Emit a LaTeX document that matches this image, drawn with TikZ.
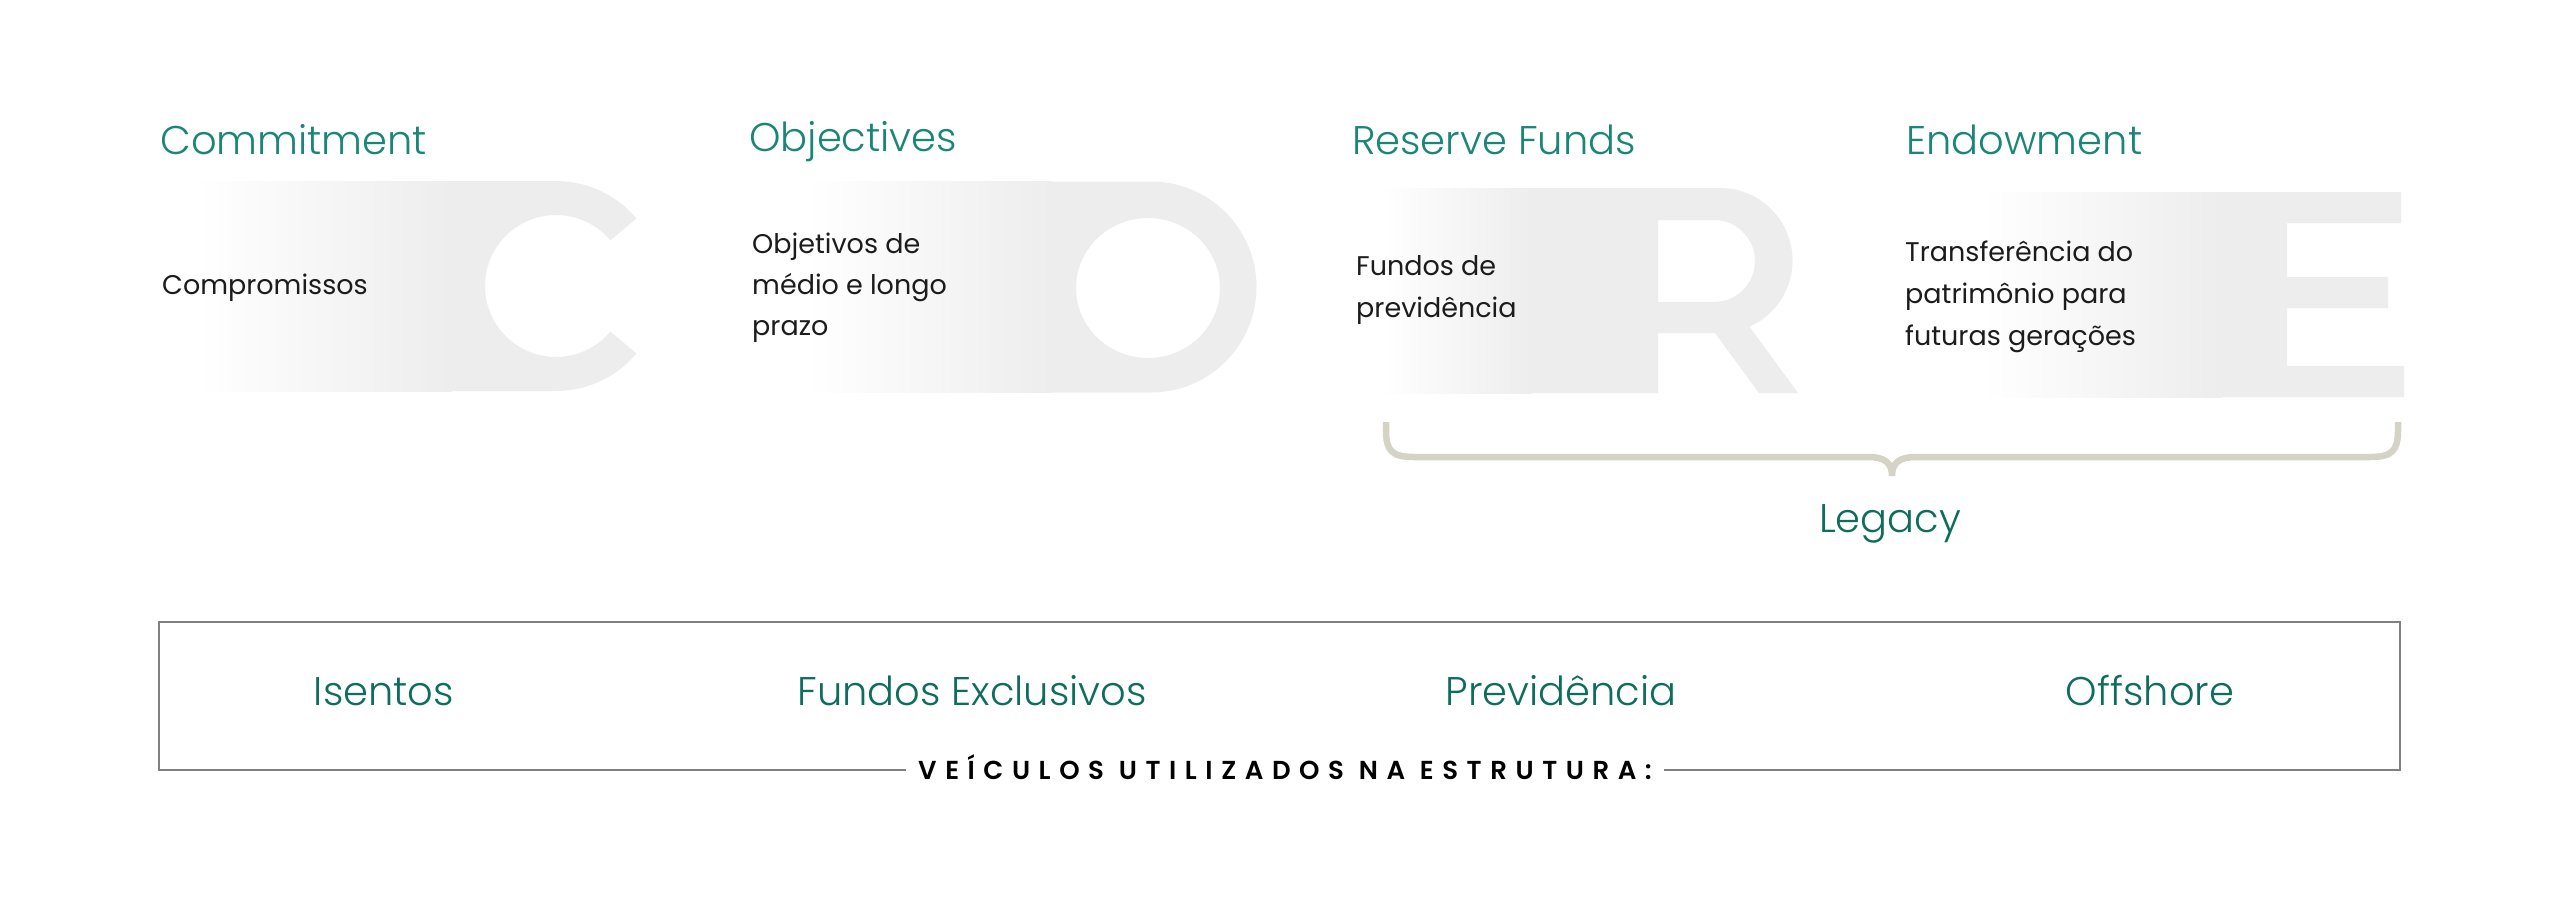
\documentclass[tikz,border=0pt]{standalone}
\usepackage{fontspec}
\setmainfont{Poppins}
\IfFontExistsTF{Poppins Light}{\newfontfamily\lightf{Poppins Light}}{\newfontfamily\lightf{Poppins}}
\IfFontExistsTF{Poppins SemiBold}{\newfontfamily\medf[LetterSpace=33]{Poppins SemiBold}}{%
  \IfFontExistsTF{Poppins Medium}{\newfontfamily\medf[LetterSpace=33]{Poppins Medium}}{\newfontfamily\medf[LetterSpace=33,FakeBold=1.5]{Poppins}}}
\definecolor{lg}{HTML}{EDEDED}
\definecolor{headteal}{HTML}{1A8676}
\definecolor{darkteal}{HTML}{0E6D5C}
\definecolor{bodyc}{HTML}{1C1C1C}
\definecolor{bracec}{HTML}{D5D3C5}
\definecolor{boxc}{HTML}{808080}
\begin{document}
\begin{tikzpicture}[x=1pt,y=1pt,yscale=-1,
  heading/.style={anchor=base west,inner sep=0pt,text=headteal,font=\lightf\fontsize{40}{48}\selectfont},
  bodyline/.style={anchor=base west,inner sep=0pt,text=bodyc,font=\fontsize{27}{33}\selectfont},
  vehicle/.style={anchor=base,inner sep=0pt,text=darkteal,font=\lightf\fontsize{40}{48}\selectfont},
  vlabelstyle/.style={anchor=base,inner xsep=12pt,inner ysep=0pt,text=black,font=\medf\fontsize{26}{30}\selectfont},
  bracestyle/.style={draw=bracec,line width=6.5pt},
  boxline/.style={draw=boxc,line width=1.6pt}]
\useasboundingbox (0,0) rectangle (2560,905);
\fill[white] (0,0) rectangle (2560,905);

% ---- big letters ----
% C
\shade[left color=white,right color=lg] (195,181) rectangle (452,391);
\fill[lg] (450,181) -- (556,181) arc[start angle=-90,end angle=-40,radius=105]
  -- ({556+71*cos(40)},{286-71*sin(40)}) arc[start angle=-40,end angle=-320,radius=71]
  -- ({556+105*cos(40)},{286+105*sin(40)}) arc[start angle=40,end angle=90,radius=105]
  -- (450,391) -- cycle;
% O
\shade[left color=white,right color=lg] (808,181.5) rectangle (1052,392.5);
\fill[lg,even odd rule] (1050,181.5) -- (1151,181.5) arc[start angle=-90,end angle=90,radius=105.5]
  -- (1050,392.5) -- cycle
  (1148,288) ellipse[x radius=72,y radius=70];
% R
\shade[left color=white,right color=lg] (1380,188) rectangle (1532,393);
\fill[lg,even odd rule] (1530,188) -- (1720,188) arc[start angle=-90,end angle=66,radius=72.5]
  -- (1798,393) -- (1759,393) -- (1715,333) -- (1658,333) -- (1658,393) -- (1530,393) -- cycle
  (1658,220) -- (1714,220) arc[start angle=-90,end angle=90,radius=41] -- (1658,302) -- cycle;
% E
\shade[left color=white,right color=lg] (1982,192) rectangle (2222,397);
\fill[lg] (2220,192) -- (2401,192) -- (2401,223) -- (2287,223) -- (2287,277) -- (2388,277)
  -- (2388,308) -- (2287,308) -- (2287,366) -- (2404,366) -- (2404,397) -- (2220,397) -- cycle;

% ---- headings ----
\node[heading] (hC) at (160,154) {Commitment};
\node[heading] (hO) at (749,151) {Objectives};
\node[heading] (hR) at (1352,154) {Reserve Funds};
\node[heading] (hE) at (1906,154) {Endowment};

% ---- body texts ----
\node[bodyline] (bC1) at (162,294) {Compromissos};
\node[bodyline] (bO1) at (752,253) {Objetivos de};
\node[bodyline] (bO2) at (752,294) {médio e longo};
\node[bodyline] (bO3) at (752,335) {prazo};
\node[bodyline] (bR1) at (1356,275) {Fundos de};
\node[bodyline] (bR2) at (1356,317) {previdência};
\node[bodyline] (bE1) at (1905,261) {Transferência do};
\node[bodyline] (bE2) at (1905,303) {patrimônio para};
\node[bodyline] (bE3) at (1905,345) {futuras gerações};

% ---- brace + Legacy ----
\draw[bracestyle] (1386,422) -- (1386,430) .. controls (1386,451) and (1392,457) .. (1414,457)
  -- (1868,457) .. controls (1885,457) and (1892,463) .. (1892,476)
  .. controls (1892,463) and (1899,457) .. (1916,457)
  -- (2370,457) .. controls (2392,457) and (2398,451) .. (2398,430) -- (2398,422);
\node[vehicle] (legacy) at (1890,532) {Legacy};

% ---- vehicles box ----
\coordinate (bl) at (159,770);
\coordinate (tl) at (159,622);
\coordinate (tr) at (2400,622);
\coordinate (br) at (2400,770);
\node[vlabelstyle] (vlabel) at (1285,779) {VEÍCULOS UTILIZADOS NA ESTRUTURA:};
\draw[boxline] (vlabel.west |- bl) -- (bl) -- (tl) -- (tr) -- (br) -- (vlabel.east |- br);
\node[vehicle] (v1) at (384,705) {Isentos};
\node[vehicle] (v2) at (972,705) {Fundos Exclusivos};
\node[vehicle] (v3) at (1561,705) {Previdência};
\node[vehicle] (v4) at (2150,705) {Offshore};
\end{tikzpicture}
\end{document}
